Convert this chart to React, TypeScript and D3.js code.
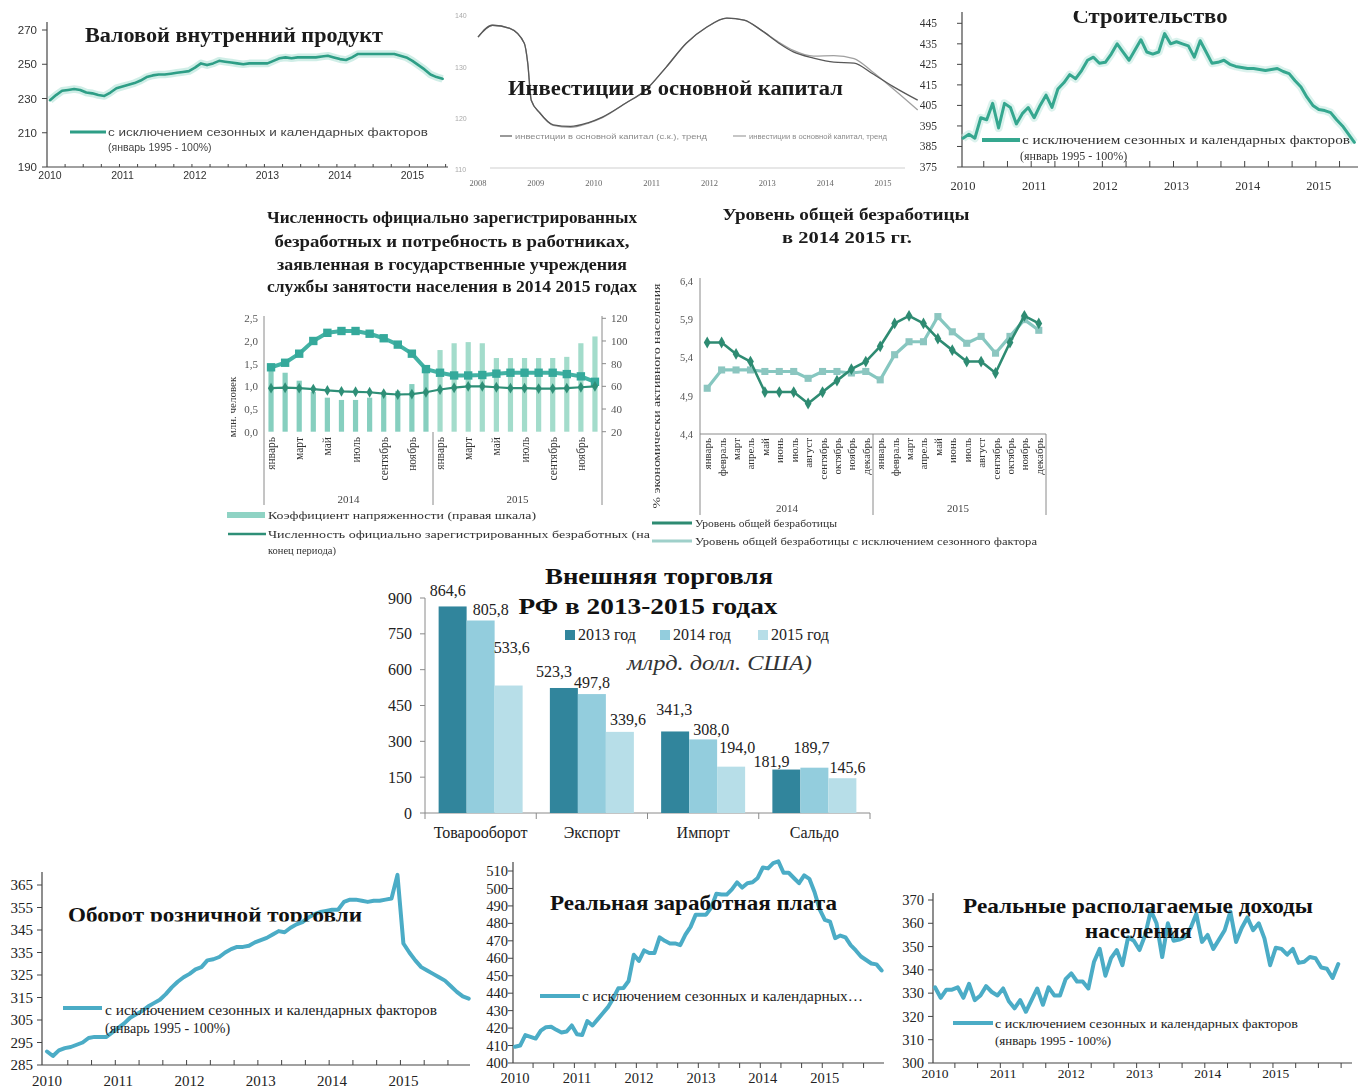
import React from 'react';
import * as d3 from 'd3';

const SERIF = '"Liberation Serif", "Times New Roman", serif';
const SANS = '"Liberation Sans", Arial, sans-serif';

// ---------- monthly indices from January 2010 (январь 1995 = 100%) ----------
const yearLabels = ['2010', '2011', '2012', '2013', '2014', '2015'];

const gdpIndex = [
  229, 232, 234.5, 235, 235.5, 235, 233.5, 233, 232, 231.5, 233.5, 236,
  237, 238, 239, 240.5, 242.5, 243.5, 244, 244, 244.5, 245, 245.5, 246,
  248, 250.5, 249.5, 250.5, 252, 251.5, 251, 250.5, 250, 250.5, 250.5, 250.5,
  250.5, 252, 253.5, 254, 253.5, 254, 254, 254, 254, 254.5, 255, 254,
  253, 252.5, 254, 256, 256, 256, 256, 256, 256, 256, 255, 254,
  252, 249.5, 247, 244, 242.5, 241.5,
];

const constructionIndex = [
  389, 391, 389, 399, 398, 406, 394, 406, 404, 396, 401, 404,
  399, 405, 410, 404, 413, 416, 420, 418, 422, 427, 428.5, 425.5,
  426, 430, 435, 431, 427, 432, 437, 431, 430, 431, 440, 435,
  436, 435, 434, 428.5, 436.5, 431, 425.5, 426, 427, 425, 424, 423.5,
  423, 423, 422.5, 422, 422.5, 423, 421.5, 420.5, 417, 414, 409, 405,
  403, 402.5, 401.5, 398, 395, 391, 387,
];

const retailIndex = [
  291, 289, 291.5, 292.5, 293, 294, 295, 297, 297.5, 297.5, 297.5, 299.5,
  301.5, 303.5, 306, 307.5, 309, 311, 312.5, 314, 316.5, 319.5, 322, 324,
  325.5, 327.5, 328.5, 331.5, 332, 333, 335, 336.5, 337.5, 337.5, 338, 339.5,
  340.5, 341.5, 343, 344.5, 344, 346, 347.5, 348.5, 350.5, 352, 353, 353.5,
  354, 354, 357.5, 358.5, 358.5, 358, 357.5, 358, 358, 358.5, 359, 369.5,
  339, 335, 331.5, 328.5, 327, 325.5, 324, 322.5, 320, 317.5, 315.5, 314.5,
];

const realWageIndex = [
  409.3, 410, 416, 415, 414, 418.5, 420.5, 420.8, 419, 417.5, 418, 421.5,
  416.5, 416, 424, 421.5, 425, 428.5, 432, 437, 442.8, 443, 447, 462,
  458.5, 464.5, 463, 463, 472, 470, 468.5, 468.5, 467.5, 473.5, 478, 485,
  485, 485, 489, 497, 496.5, 496.5, 499.5, 503.5, 500.5, 503, 503.5, 506,
  512, 511.5, 514.5, 515.5, 509, 509, 506, 503, 507.5, 505.5, 498, 488,
  482, 481, 471.5, 473, 472, 467.5, 464.5, 461, 459, 457, 456.5, 453,
];

const realIncomeIndex = [
  332.5, 328, 331.5, 331.5, 332.5, 328, 334, 327, 329, 333, 330.5, 329,
  332, 326.5, 323.5, 327, 322, 327, 332, 325, 332.5, 329, 329, 336,
  338.5, 335, 335, 332, 343.5, 349, 337.5, 345, 348.5, 342, 354, 352.5,
  348.5, 355, 365.5, 360, 345.5, 360, 352.5, 353, 354, 358, 364, 352,
  355, 349, 353, 357, 365, 352, 358, 362.5, 357, 360, 353.5, 342,
  349.5, 349, 346.5, 349, 343, 343.5, 345.5, 345, 341, 340.5, 336.5, 342.5,
];

// ---------- investment trend (decimal years) ----------
const investYearLabels = ['2008', '2009', '2010', '2011', '2012', '2013', '2014', '2015'];
const investTickLabels = [110, 120, 130, 140];
const investDates = [
  2008.0, 2008.25, 2008.55, 2008.8, 2008.86, 2008.92, 2009.07, 2009.3, 2009.6, 2009.9,
  2010.15, 2010.55, 2010.9, 2011.25, 2011.6, 2011.95, 2012.3, 2012.6, 2012.9, 2013.2,
  2013.45, 2013.8, 2014.15, 2014.5, 2014.8, 2015.2, 2015.6,
];
const investTrendSA = [
  135.9, 138.2, 137.6, 134.7, 130.8, 123.6, 121.1, 118.8, 118.5, 119.2,
  120.3, 123.0, 125.6, 130.0, 134.7, 137.8, 139.6, 139.2, 137.2, 134.7,
  133.0, 131.8, 131.0, 130.8, 128.9, 126.1, 123.6,
];
const investTrend = [
  135.9, 138.2, 137.6, 134.7, 130.8, 123.6, 121.1, 118.7, 118.3, 119.1,
  120.2, 123.0, 125.6, 130.0, 134.7, 137.8, 139.6, 139.2, 137.2, 134.9,
  133.3, 132.2, 132.3, 131.7, 129.3, 125.6, 121.7,
];
const investLegend = ['инвестиции в основной капитал (с.к.), тренд', 'инвестиции в основной капитал, тренд'];

// ---------- labour market 2014-2015 ----------
const monthNames = [
  'январь', 'февраль', 'март', 'апрель', 'май', 'июнь',
  'июль', 'август', 'сентябрь', 'октябрь', 'ноябрь', 'декабрь',
];
const laborYears = ['2014', '2015'];
const tensionRatio = [
  78, 72, 65, 55, 50, 48, 48, 50, 52, 56, 62, 72,
  92, 98, 99, 98, 85, 85, 85, 85, 85, 86, 98, 104,
];
const laborDemand = [
  1.42, 1.52, 1.72, 2.0, 2.18, 2.22, 2.22, 2.16, 2.06, 1.92, 1.72, 1.38,
  1.3, 1.24, 1.24, 1.25, 1.28, 1.3, 1.3, 1.3, 1.3, 1.27, 1.22, 1.1,
];
const registeredUnemployed = [
  0.96, 0.97, 0.96, 0.94, 0.91, 0.89, 0.88, 0.87, 0.84, 0.82, 0.83, 0.87,
  0.93, 0.97, 1.0, 1.0, 0.98, 0.96, 0.96, 0.95, 0.95, 0.96, 0.98, 1.0,
];
const unemploymentRate = [
  5.6, 5.6, 5.45, 5.35, 4.95, 4.95, 4.95, 4.8, 4.95, 5.1, 5.25, 5.35,
  5.55, 5.85, 5.95, 5.85, 5.65, 5.5, 5.35, 5.35, 5.2, 5.6, 5.95, 5.85,
];
const unemploymentRateSA = [
  5.0, 5.24, 5.24, 5.24, 5.22, 5.22, 5.22, 5.13, 5.22, 5.22, 5.2, 5.22,
  5.11, 5.44, 5.61, 5.61, 5.94, 5.74, 5.59, 5.68, 5.46, 5.68, 5.9, 5.76,
];

// ---------- foreign trade, млрд. долл. США ----------
const tradeCategories = ['Товарооборот', 'Экспорт', 'Импорт', 'Сальдо'];
const tradeSeriesNames = ['2013 год', '2014 год', '2015 год'];
const trade2013 = [864.6, 523.3, 341.3, 181.9];
const trade2014 = [805.8, 497.8, 308.0, 189.7];
const trade2015 = [533.6, 339.6, 194.0, 145.6];

// label offsets (dx, dy) so value labels clear each other
const tradeLabelNudge = [
  [[-5, -3], [-10, -4], [-1, -9.5], [-15, 4]],
  [[10, 1.5], [0, 1], [8, 2.5], [-3, -7.5]],
  [[3, -25.5], [8, 0], [6, -6.5], [5, 2]],
];

const ru = d3.formatLocale({ decimal: ',', thousands: '\u00a0', grouping: [3], currency: ['', ''] });
const fmt1 = ru.format('.1f');

type MonthlyChartProps = {
  values: number[];
  xStart: number;
  xStep: number;
  yDomain: [number, number];
  yRange: [number, number];
  axisX: number;
  axisTop: number;
  axisRight: number;
  yTicks: number[];
  yLabelX: number;
  yearLabelY: number;
  font: string;
  tickFontSize: number;
  yearFontSize: number;
  textColor: string;
  axisColor: string;
  color: string;
  lineWidth: number;
  halo?: string;
  monthTicks: number;
  monthTickLen: number;
  monthsSpan: number;
};

function MonthlyChart(p: MonthlyChartProps) {
  const x = d3.scaleLinear().domain([0, 1]).range([p.xStart, p.xStart + p.xStep]);
  const y = d3.scaleLinear().domain(p.yDomain).range(p.yRange);
  const path = d3.line<number>().x((_, i) => x(i)).y((d) => y(d))(p.values) || '';
  const base = p.yRange[0];
  const tickXs = d3
    .range(p.monthTicks, p.monthsSpan + 1, p.monthTicks)
    .map((i) => x(i - 0.5))
    .filter((v) => v > p.axisX + 2 && v <= p.axisRight);
  return (
    <g>
      <line x1={p.axisX} x2={p.axisX} y1={p.axisTop} y2={base} stroke={p.axisColor} strokeWidth={1.2} />
      <line x1={p.axisX} x2={p.axisRight} y1={base} y2={base} stroke={p.axisColor} strokeWidth={1.2} />
      {p.yTicks.map((t) => (
        <g key={t}>
          <line x1={p.axisX - 5} x2={p.axisX} y1={y(t)} y2={y(t)} stroke={p.axisColor} />
          <text
            x={p.yLabelX}
            y={y(t)}
            dy="0.35em"
            textAnchor="end"
            fontFamily={p.font}
            fontSize={p.tickFontSize}
            fill={p.textColor}
          >
            {t}
          </text>
        </g>
      ))}
      {tickXs.map((tx, i) => (
        <line key={i} x1={tx} x2={tx} y1={base} y2={base + p.monthTickLen} stroke={p.axisColor} />
      ))}
      {yearLabels.map((yr, k) => (
        <text
          key={yr}
          x={x(12 * k)}
          y={p.yearLabelY}
          textAnchor="middle"
          fontFamily={p.font}
          fontSize={p.yearFontSize}
          fill={p.textColor}
        >
          {yr}
        </text>
      ))}
      {p.halo && (
        <path d={path} fill="none" stroke={p.halo} strokeWidth={p.lineWidth + 5} strokeLinejoin="round" opacity={0.55} />
      )}
      <path d={path} fill="none" stroke={p.color} strokeWidth={p.lineWidth} strokeLinejoin="round" strokeLinecap="round" />
    </g>
  );
}

function InvestmentChart() {
  const x = d3.scaleLinear().domain([2008, 2015]).range([478, 883]);
  const y = d3.scaleLinear().domain([110, 140]).range([170, 16]);
  const mk = (vals: number[]) =>
    d3
      .line<number>()
      .x((_, i) => x(investDates[i]))
      .y((d) => y(d))
      .curve(d3.curveMonotoneX)(vals) || '';
  return (
    <g>
      <line x1={490} x2={905} y1={168} y2={168} stroke="#cfcfcf" strokeWidth={1} />
      {investTickLabels.map((t) => (
        <text key={t} x={455} y={y(t)} dy="0.35em" fontFamily={SANS} fontSize={7} fill="#aaa">
          {t}
        </text>
      ))}
      {investYearLabels.map((yr, k) => (
        <text key={yr} x={x(2008 + k)} y={186} textAnchor="middle" fontFamily={SERIF} fontSize={8.5} fill="#666">
          {yr}
        </text>
      ))}
      <path d={mk(investTrend)} fill="none" stroke="#a0a0a0" strokeWidth={1.3} />
      <path d={mk(investTrendSA)} fill="none" stroke="#585858" strokeWidth={1.3} />
      <line x1={500} x2={512} y1={136} y2={136} stroke="#585858" strokeWidth={1.2} />
      <text x={515} y={139} fontFamily={SANS} fontSize={7.5} fill="#8a8a8a" textLength={192} lengthAdjust="spacingAndGlyphs">
        {investLegend[0]}
      </text>
      <line x1={733} x2={746} y1={136} y2={136} stroke="#a0a0a0" strokeWidth={1.2} />
      <text x={749} y={139} fontFamily={SANS} fontSize={7.5} fill="#8a8a8a" textLength={138} lengthAdjust="spacingAndGlyphs">
        {investLegend[1]}
      </text>
      <text x={508} y={95} fontFamily={SERIF} fontWeight="bold" fontSize={20} fill="#1a1a1a" textLength={335} lengthAdjust="spacingAndGlyphs">
        Инвестиции в основной капитал
      </text>
    </g>
  );
}

function LaborDemandChart() {
  const x = d3.scaleBand<number>().domain(d3.range(24)).range([264, 602]);
  const bw = x.bandwidth();
  const cx = (i: number) => (x(i) ?? 0) + bw / 2;
  const yL = d3.scaleLinear().domain([0, 2.5]).range([431.7, 318.3]);
  const yR = d3.scaleLinear().domain([20, 120]).range([431.7, 318.3]);
  const line = (vals: number[]) => d3.line<number>().x((_, i) => cx(i)).y((d) => yL(d))(vals) || '';
  const square = d3.symbol(d3.symbolSquare, 70)() || '';
  const diamond = d3.symbol(d3.symbolDiamond, 34)() || '';
  const leftTicks = [0, 0.5, 1, 1.5, 2, 2.5];
  const rightTicks = [20, 40, 60, 80, 100, 120];
  const titleLines = [
    { t: 'Численность официально зарегистрированных', y: 223, w: 370 },
    { t: 'безработных и потребность в работниках,', y: 247, w: 355 },
    { t: 'заявленная в государственные учреждения', y: 270, w: 350 },
    { t: 'службы занятости населения в 2014 2015 годах', y: 292, w: 370 },
  ];
  return (
    <g>
      {titleLines.map((l) => (
        <text key={l.t} x={452} y={l.y} textAnchor="middle" fontFamily={SERIF} fontWeight="bold" fontSize={16} fill="#1a1a1a" textLength={l.w} lengthAdjust="spacingAndGlyphs">
          {l.t}
        </text>
      ))}
      {tensionRatio.map((v, i) => (
        <rect key={i} x={cx(i) - 2.6} width={5.2} y={yR(v)} height={yR(20) - yR(v)} fill={i < 12 ? '#86cfbf' : '#a3dccb'} />
      ))}
      <line x1={264} x2={264} y1={316} y2={505} stroke="#8a8a8a" />
      <line x1={602} x2={602} y1={316} y2={505} stroke="#8a8a8a" />
      <line x1={433} x2={433} y1={432} y2={505} stroke="#8a8a8a" />
      {rightTicks.map((t) => (
        <g key={t}>
          <line x1={602} x2={606} y1={yR(t)} y2={yR(t)} stroke="#8a8a8a" />
          <text x={611} y={yR(t)} dy="0.35em" fontFamily={SERIF} fontSize={11} fill="#555">
            {t}
          </text>
        </g>
      ))}
      {leftTicks.map((t) => (
        <text key={t} x={258} y={yL(t)} dy="0.35em" textAnchor="end" fontFamily={SERIF} fontSize={11} fill="#555">
          {fmt1(t)}
        </text>
      ))}
      <text transform="translate(236,407) rotate(-90)" textAnchor="middle" fontFamily={SERIF} fontSize={11} fill="#333">
        млн. человек
      </text>
      <path d={line(laborDemand)} fill="none" stroke="#42b2a4" strokeWidth={4} strokeLinejoin="round" />
      {laborDemand.map((v, i) => (
        <path key={i} d={square} transform={`translate(${cx(i)},${yL(v)})`} fill="#36a99b" />
      ))}
      <path d={line(registeredUnemployed)} fill="none" stroke="#2e8f77" strokeWidth={2.2} />
      {registeredUnemployed.map((v, i) => (
        <path key={i} d={diamond} transform={`translate(${cx(i)},${yL(v)})`} fill="#2e8f77" />
      ))}
      {d3.range(0, 24, 2).map((i) => (
        <text key={i} transform={`translate(${cx(i) + 4},437) rotate(-90)`} textAnchor="end" fontFamily={SERIF} fontSize={11.5} fill="#333">
          {monthNames[i % 12]}
        </text>
      ))}
      {laborYears.map((yr, k) => (
        <text key={yr} x={(cx(12 * k) + cx(12 * k + 11)) / 2} y={503} textAnchor="middle" fontFamily={SERIF} fontSize={11} fill="#444">
          {yr}
        </text>
      ))}
      <rect x={227} y={512} width={38} height={6} fill="#8fd3c4" />
      <text x={268} y={519} fontFamily={SERIF} fontSize={10.5} fill="#333" textLength={268} lengthAdjust="spacingAndGlyphs">
        Коэффициент напряженности (правая шкала)
      </text>
      <line x1={228} x2={266} y1={534} y2={534} stroke="#2e8f77" strokeWidth={2.5} />
      <text x={268} y={538} fontFamily={SERIF} fontSize={10.5} fill="#333" textLength={382} lengthAdjust="spacingAndGlyphs">
        Численность официально зарегистрированных безработных (на
      </text>
      <text x={268} y={554} fontFamily={SERIF} fontSize={10.5} fill="#333">
        конец периода)
      </text>
    </g>
  );
}

function UnemploymentRateChart() {
  const x = d3.scaleBand<number>().domain(d3.range(24)).range([700, 1046]);
  const bw = x.bandwidth();
  const cx = (i: number) => (x(i) ?? 0) + bw / 2;
  const y = d3.scaleLinear().domain([4.4, 6.4]).range([434, 281.5]);
  const line = (vals: number[]) => d3.line<number>().x((_, i) => cx(i)).y((d) => y(d))(vals) || '';
  const ticks = [4.4, 4.9, 5.4, 5.9, 6.4];
  const square = d3.symbol(d3.symbolSquare, 50)() || '';
  const diamond = d3.symbol(d3.symbolDiamond, 40)() || '';
  return (
    <g>
      <text x={846} y={220} textAnchor="middle" fontFamily={SERIF} fontWeight="bold" fontSize={16} fill="#1a1a1a" textLength={247} lengthAdjust="spacingAndGlyphs">
        Уровень общей безработицы
      </text>
      <text x={847} y={243} textAnchor="middle" fontFamily={SERIF} fontWeight="bold" fontSize={16} fill="#1a1a1a" textLength={130} lengthAdjust="spacingAndGlyphs">
        в 2014 2015 гг.
      </text>
      <line x1={700} x2={700} y1={278} y2={515} stroke="#8a8a8a" />
      <line x1={700} x2={1046} y1={434} y2={434} stroke="#8a8a8a" />
      <line x1={x(12) ?? 0} x2={x(12) ?? 0} y1={434} y2={515} stroke="#8a8a8a" />
      <line x1={1046} x2={1046} y1={434} y2={515} stroke="#8a8a8a" />
      {ticks.map((t) => (
        <text key={t} x={693} y={y(t)} dy="0.35em" textAnchor="end" fontFamily={SERIF} fontSize={10.5} fill="#555">
          {fmt1(t)}
        </text>
      ))}
      <text transform="translate(660,396) rotate(-90)" textAnchor="middle" fontFamily={SERIF} fontSize={10.5} fill="#333" textLength={225} lengthAdjust="spacingAndGlyphs">
        % экономически активного населения
      </text>
      <path d={line(unemploymentRateSA)} fill="none" stroke="#86c7c0" strokeWidth={3.2} strokeLinejoin="round" />
      {unemploymentRateSA.map((v, i) => (
        <path key={i} d={square} transform={`translate(${cx(i)},${y(v)})`} fill="#8cc6c0" />
      ))}
      <path d={line(unemploymentRate)} fill="none" stroke="#2e8b72" strokeWidth={2.6} strokeLinejoin="round" />
      {unemploymentRate.map((v, i) => (
        <path key={i} d={diamond} transform={`translate(${cx(i)},${y(v)})`} fill="#2e8b72" />
      ))}
      {d3.range(24).map((i) => (
        <text key={i} transform={`translate(${cx(i) + 4},438) rotate(-90)`} textAnchor="end" fontFamily={SERIF} fontSize={11} fill="#333">
          {monthNames[i % 12]}
        </text>
      ))}
      {laborYears.map((yr, k) => (
        <text key={yr} x={k === 0 ? 787 : 958} y={512} textAnchor="middle" fontFamily={SERIF} fontSize={11} fill="#444">
          {yr}
        </text>
      ))}
      <line x1={652} x2={692} y1={523} y2={523} stroke="#2e8b72" strokeWidth={3} />
      <text x={695} y={527} fontFamily={SERIF} fontSize={10.5} fill="#333" textLength={142} lengthAdjust="spacingAndGlyphs">
        Уровень общей безработицы
      </text>
      <line x1={652} x2={692} y1={541} y2={541} stroke="#9fd0ca" strokeWidth={3} />
      <text x={695} y={545} fontFamily={SERIF} fontSize={10.5} fill="#333" textLength={342} lengthAdjust="spacingAndGlyphs">
        Уровень общей безработицы с исключением сезонного фактора
      </text>
    </g>
  );
}

function TradeChart() {
  const x = d3.scaleBand<string>().domain(tradeCategories).range([425, 870]);
  const y = d3.scaleLinear().domain([0, 900]).range([813, 598]);
  const sub = d3.scaleBand<string>().domain(tradeSeriesNames).range([0, 84]);
  const colors = ['#31859c', '#93cddd', '#b7dee8'];
  const series = [trade2013, trade2014, trade2015];
  const pad = (x.bandwidth() - 84) / 2;
  const ticks = [0, 150, 300, 450, 600, 750, 900];
  const boundaries = [...tradeCategories.map((c) => x(c) ?? 0), 870];
  return (
    <g>
      <text x={659} y={584} textAnchor="middle" fontFamily={SERIF} fontWeight="bold" fontSize={24} fill="#111" textLength={228} lengthAdjust="spacingAndGlyphs">
        Внешняя торговля
      </text>
      <line x1={425} x2={425} y1={598} y2={813} stroke="#8a8a8a" />
      <line x1={425} x2={870} y1={813} y2={813} stroke="#8a8a8a" />
      {ticks.map((t) => (
        <g key={t}>
          <line x1={420} x2={425} y1={y(t)} y2={y(t)} stroke="#8a8a8a" />
          <text x={412} y={y(t)} dy="0.35em" textAnchor="end" fontFamily={SERIF} fontSize={16} fill="#222">
            {t}
          </text>
        </g>
      ))}
      {boundaries.map((b, i) => (
        <line key={i} x1={b} x2={b} y1={813} y2={819} stroke="#8a8a8a" />
      ))}
      {series.map((vals, s) =>
        vals.map((v, c) => {
          const bx = (x(tradeCategories[c]) ?? 0) + pad + (sub(tradeSeriesNames[s]) ?? 0);
          return <rect key={`${s}-${c}`} x={bx} y={y(v)} width={sub.bandwidth()} height={y(0) - y(v)} fill={colors[s]} />;
        }),
      )}
      {series.map((vals, s) =>
        vals.map((v, c) => {
          const bx = (x(tradeCategories[c]) ?? 0) + pad + (sub(tradeSeriesNames[s]) ?? 0) + sub.bandwidth() / 2;
          const [dx, dy] = tradeLabelNudge[s][c];
          return (
            <text key={`l${s}-${c}`} x={bx + dx} y={y(v) - 7 + dy} textAnchor="middle" fontFamily={SERIF} fontSize={16} fill="#222">
              {fmt1(v)}
            </text>
          );
        }),
      )}
      {tradeCategories.map((c) => (
        <text key={c} x={(x(c) ?? 0) + x.bandwidth() / 2} y={838} textAnchor="middle" fontFamily={SERIF} fontSize={16} fill="#222">
          {c}
        </text>
      ))}
      <text x={648} y={614} textAnchor="middle" fontFamily={SERIF} fontWeight="bold" fontSize={23} fill="#111" textLength={259} lengthAdjust="spacingAndGlyphs">
        РФ в 2013-2015 годах
      </text>
      {tradeSeriesNames.map((n, s) => {
        const lx = [565, 660, 758][s];
        return (
          <g key={n}>
            <rect x={lx} y={630} width={10} height={10} fill={colors[s]} />
            <text x={lx + 13} y={640} fontFamily={SERIF} fontSize={16} fill="#222">
              {n}
            </text>
          </g>
        );
      })}
      <text x={627} y={670} fontFamily={SERIF} fontStyle="italic" fontSize={20} fill="#333" textLength={185} lengthAdjust="spacingAndGlyphs">
        млрд. долл. США)
      </text>
    </g>
  );
}

const legendLine1 = 'с исключением сезонных и календарных факторов';
const legendLine2 = '(январь 1995 - 100%)';

export default function App() {
  const tenYearTicks = (from: number, to: number, step: number) => d3.range(from, to + 1, step);
  return (
    <svg
      width={1358}
      height={1088}
      viewBox="0 0 1358 1088"
      style={{ position: 'absolute', left: 0, top: 0, display: 'block', background: '#fff' }}
    >
      <defs>
        <filter id="soft" x="-5%" y="-5%" width="110%" height="110%">
          <feGaussianBlur stdDeviation={0.65} />
        </filter>
        <clipPath id="clipTop">
          <rect x={0} y={11} width={1358} height={200} />
        </clipPath>
        <clipPath id="clipRetailTitle">
          <rect x={0} y={880} width={470} height={41.5} />
        </clipPath>
      </defs>
      <rect width={1358} height={1088} fill="#fff" />

      {/* ВВП */}
      <g filter="url(#soft)">
        <MonthlyChart
          values={gdpIndex}
          xStart={50}
          xStep={6.04}
          yDomain={[190, 270]}
          yRange={[167, 30]}
          axisX={47}
          axisTop={22}
          axisRight={448}
          yTicks={tenYearTicks(190, 270, 20)}
          yLabelX={37}
          yearLabelY={179}
          font={SANS}
          tickFontSize={11.5}
          yearFontSize={10.5}
          textColor="#333"
          axisColor="#444"
          color="#2e9e86"
          lineWidth={2.6}
          halo="#a9e0d3"
          monthTicks={3}
          monthTickLen={-3}
          monthsSpan={66}
        />
        <text x={85} y={42} fontFamily={SERIF} fontWeight="bold" fontSize={20} fill="#1a1a1a" textLength={298} lengthAdjust="spacingAndGlyphs">
          Валовой внутренний продукт
        </text>
        <line x1={70} x2={106} y1={132} y2={132} stroke="#2e9e86" strokeWidth={3} />
        <text x={108} y={136} fontFamily={SANS} fontSize={10.5} fill="#444" textLength={320} lengthAdjust="spacingAndGlyphs">
          {legendLine1}
        </text>
        <text x={108} y={151} fontFamily={SANS} fontSize={10.5} fill="#444">
          {legendLine2}
        </text>
      </g>

      {/* Инвестиции */}
      <g filter="url(#soft)">
        <InvestmentChart />
      </g>

      {/* Строительство */}
      <g filter="url(#soft)">
        <MonthlyChart
          values={constructionIndex}
          xStart={963}
          xStep={5.93}
          yDomain={[375, 445]}
          yRange={[167, 23.3]}
          axisX={962}
          axisTop={12}
          axisRight={1358}
          yTicks={tenYearTicks(375, 445, 10)}
          yLabelX={937}
          yearLabelY={190}
          font={SERIF}
          tickFontSize={11.5}
          yearFontSize={12.5}
          textColor="#333"
          axisColor="#444"
          color="#36a78f"
          lineWidth={3}
          halo="#bde8de"
          monthTicks={4}
          monthTickLen={-6}
          monthsSpan={67}
        />
        <text x={1150} y={23} textAnchor="middle" clipPath="url(#clipTop)" fontFamily={SERIF} fontWeight="bold" fontSize={21} fill="#1a1a1a" textLength={155} lengthAdjust="spacingAndGlyphs">
          Строительство
        </text>
        <line x1={982} x2={1020} y1={140} y2={140} stroke="#36a78f" strokeWidth={4} />
        <text x={1022} y={144} fontFamily={SERIF} fontSize={12} fill="#333" textLength={328} lengthAdjust="spacingAndGlyphs">
          {legendLine1}
        </text>
        <text x={1020} y={160} fontFamily={SERIF} fontSize={12} fill="#333">
          {legendLine2}
        </text>
      </g>

      {/* Рынок труда */}
      <g filter="url(#soft)">
        <LaborDemandChart />
      </g>
      <g filter="url(#soft)">
        <UnemploymentRateChart />
      </g>

      {/* Внешняя торговля */}
      <TradeChart />

      {/* Оборот розничной торговли */}
      <MonthlyChart
        values={retailIndex}
        xStart={47}
        xStep={5.94}
        yDomain={[285, 365]}
        yRange={[1065, 885]}
        axisX={42}
        axisTop={872}
        axisRight={470}
        yTicks={tenYearTicks(285, 365, 10)}
        yLabelX={33}
        yearLabelY={1086}
        font={SERIF}
        tickFontSize={15}
        yearFontSize={15}
        textColor="#222"
        axisColor="#444"
        color="#4bacc6"
        lineWidth={4}
        monthTicks={4}
        monthTickLen={-5}
        monthsSpan={72}
      />
      <text x={68} y={921.5} clipPath="url(#clipRetailTitle)" fontFamily={SERIF} fontWeight="bold" fontSize={22} fill="#111" textLength={294} lengthAdjust="spacingAndGlyphs">
        Оборот розничной торговли
      </text>
      <line x1={63} x2={102} y1={1008} y2={1008} stroke="#4bacc6" strokeWidth={4} />
      <text x={105} y={1015} fontFamily={SERIF} fontSize={14} fill="#222" textLength={332} lengthAdjust="spacingAndGlyphs">
        {legendLine1}
      </text>
      <text x={105} y={1033} fontFamily={SERIF} fontSize={14} fill="#222">
        {legendLine2}
      </text>

      {/* Реальная заработная плата */}
      <MonthlyChart
        values={realWageIndex}
        xStart={515}
        xStep={5.164}
        yDomain={[400, 510]}
        yRange={[1063, 871]}
        axisX={513}
        axisTop={862}
        axisRight={884}
        yTicks={tenYearTicks(400, 510, 10)}
        yLabelX={508}
        yearLabelY={1083}
        font={SERIF}
        tickFontSize={14.5}
        yearFontSize={14.5}
        textColor="#222"
        axisColor="#444"
        color="#4bacc6"
        lineWidth={4}
        monthTicks={4}
        monthTickLen={5}
        monthsSpan={72}
      />
      <text x={550} y={910} fontFamily={SERIF} fontWeight="bold" fontSize={22} fill="#111" textLength={287} lengthAdjust="spacingAndGlyphs">
        Реальная заработная плата
      </text>
      <line x1={540} x2={580} y1={996} y2={996} stroke="#4bacc6" strokeWidth={4} />
      <text x={582} y={1001} fontFamily={SERIF} fontSize={14} fill="#222" textLength={281} lengthAdjust="spacingAndGlyphs">
        с исключением сезонных и календарных…
      </text>

      {/* Реальные располагаемые доходы */}
      <MonthlyChart
        values={realIncomeIndex}
        xStart={935}
        xStep={5.68}
        yDomain={[300, 370]}
        yRange={[1063, 900]}
        axisX={933}
        axisTop={893}
        axisRight={1352}
        yTicks={tenYearTicks(300, 370, 10)}
        yLabelX={924}
        yearLabelY={1078}
        font={SERIF}
        tickFontSize={14.5}
        yearFontSize={13.5}
        textColor="#222"
        axisColor="#444"
        color="#4bacc6"
        lineWidth={4}
        monthTicks={4}
        monthTickLen={5}
        monthsSpan={72}
      />
      <text x={963} y={913} fontFamily={SERIF} fontWeight="bold" fontSize={22} fill="#111" textLength={350} lengthAdjust="spacingAndGlyphs">
        Реальные располагаемые доходы
      </text>
      <text x={1085} y={938} fontFamily={SERIF} fontWeight="bold" fontSize={22} fill="#111" textLength={107} lengthAdjust="spacingAndGlyphs">
        населения
      </text>
      <line x1={953} x2={993} y1={1023} y2={1023} stroke="#4bacc6" strokeWidth={4} />
      <text x={995} y={1028} fontFamily={SERIF} fontSize={13} fill="#222" textLength={303} lengthAdjust="spacingAndGlyphs">
        {legendLine1}
      </text>
      <text x={995} y={1045} fontFamily={SERIF} fontSize={13} fill="#222">
        {legendLine2}
      </text>
    </svg>
  );
}
